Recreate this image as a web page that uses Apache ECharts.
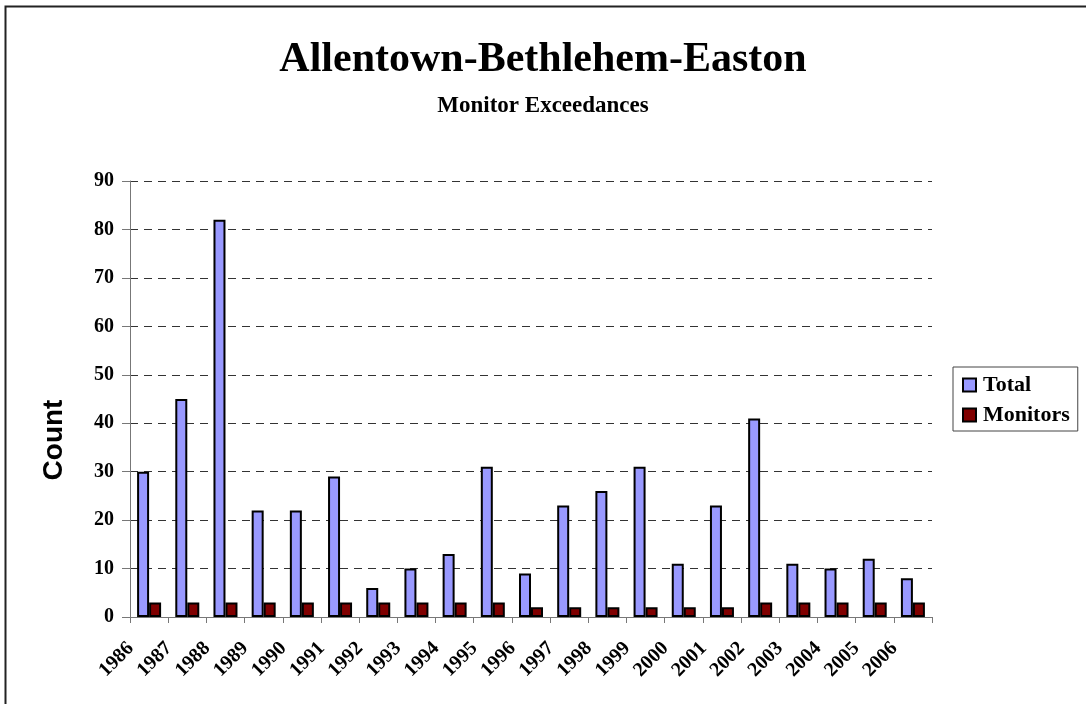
<!DOCTYPE html>
<html>
<head>
<meta charset="utf-8">
<script src="https://cdn.jsdelivr.net/npm/echarts@6/dist/echarts.min.js"></script>
<style>
html, body { margin: 0; padding: 0; background: #fff; }
#chart { width: 1086px; height: 704px; }
</style>
</head>
<body>
<div id="chart"></div>
<script>
//年份
const years = ['1986', '1987', '1988', '1989', '1990', '1991', '1992', '1993', '1994', '1995', '1996',
    '1997', '1998', '1999', '2000', '2001', '2002', '2003', '2004', '2005', '2006'];
//超标总数
const totalValues = [30, 45, 82, 22, 22, 29, 6, 10, 13, 31, 9, 23, 26, 31, 11, 23, 41, 11, 10, 12, 8];
//监测站数
const monitorValues = [3, 3, 3, 3, 3, 3, 3, 3, 3, 3, 2, 2, 2, 2, 2, 2, 3, 3, 3, 3, 3];

const serif = 'Liberation Serif';
const chart = echarts.init(document.getElementById('chart'));

const option = {
    backgroundColor: '#fff',
    animation: false,
    graphic: [{
        type: 'rect',
        shape: { x: 5.5, y: 6.5, width: 1200, height: 800 },
        style: { fill: 'none', stroke: '#222', lineWidth: 2 },
        silent: true
    }, {
        //纵轴标题
        type: 'text',
        x: 54,
        y: 440,
        rotation: Math.PI / 2,
        style: {
            text: 'Count',
            fontFamily: 'Liberation Sans',
            fontWeight: 'bold',
            fontSize: 28,
            fill: '#000',
            align: 'center',
            verticalAlign: 'middle'
        },
        silent: true
    }],
    title: {
        text: 'Allentown-Bethlehem-Easton',
        subtext: 'Monitor Exceedances',
        left: 'center',
        top: 34,
        itemGap: 14,
        textStyle: { fontFamily: serif, fontWeight: 'bold', fontSize: 42, color: '#000' },
        subtextStyle: { fontFamily: serif, fontWeight: 'bold', fontSize: 23, color: '#000' }
    },
    legend: {
        orient: 'vertical',
        left: 953,
        top: 367,
        width: 130,
        padding: [7, 8, 5, 9],
        itemGap: 8,
        itemWidth: 13,
        itemHeight: 13,
        icon: 'rect',
        borderColor: '#444',
        borderWidth: 1,
        textStyle: { fontFamily: serif, fontWeight: 'bold', fontSize: 22, color: '#000', padding: [0, 0, 0, 2] },
        data: ['Total', 'Monitors']
    },
    grid: { left: 130, right: 154, top: 181, bottom: 87 },
    xAxis: {
        type: 'category',
        data: years,
        axisLine: { lineStyle: { color: '#777', width: 1 } },
        axisTick: { show: true, length: 6, lineStyle: { color: '#777' } },
        axisLabel: {
            rotate: 45,
            margin: 10,
            padding: [0, 26, 0, 0],
            interval: 0,
            fontFamily: serif,
            fontWeight: 'bold',
            fontSize: 20,
            color: '#000'
        }
    },
    yAxis: {
        type: 'value',
        min: 0,
        max: 90,
        interval: 10,
        axisLine: { show: true, lineStyle: { color: '#777', width: 1 } },
        axisTick: { show: true, length: 8, lineStyle: { color: '#777' } },
        axisLabel: { margin: 16, fontFamily: serif, fontWeight: 'bold', fontSize: 20, color: '#000' },
        splitLine: { show: true, lineStyle: { color: '#333', type: [8, 6], width: 1 } }
    },
    series: [{
        name: 'Total',
        type: 'bar',
        data: totalValues,
        barWidth: 12,
        barGap: 0,
        itemStyle: { color: '#9999FF', borderColor: '#000', borderWidth: 2 }
    }, {
        name: 'Monitors',
        type: 'bar',
        data: monitorValues,
        barWidth: 12,
        itemStyle: { color: '#800000', borderColor: '#000', borderWidth: 2 }
    }]
};

chart.setOption(option);
</script>
</body>
</html>
